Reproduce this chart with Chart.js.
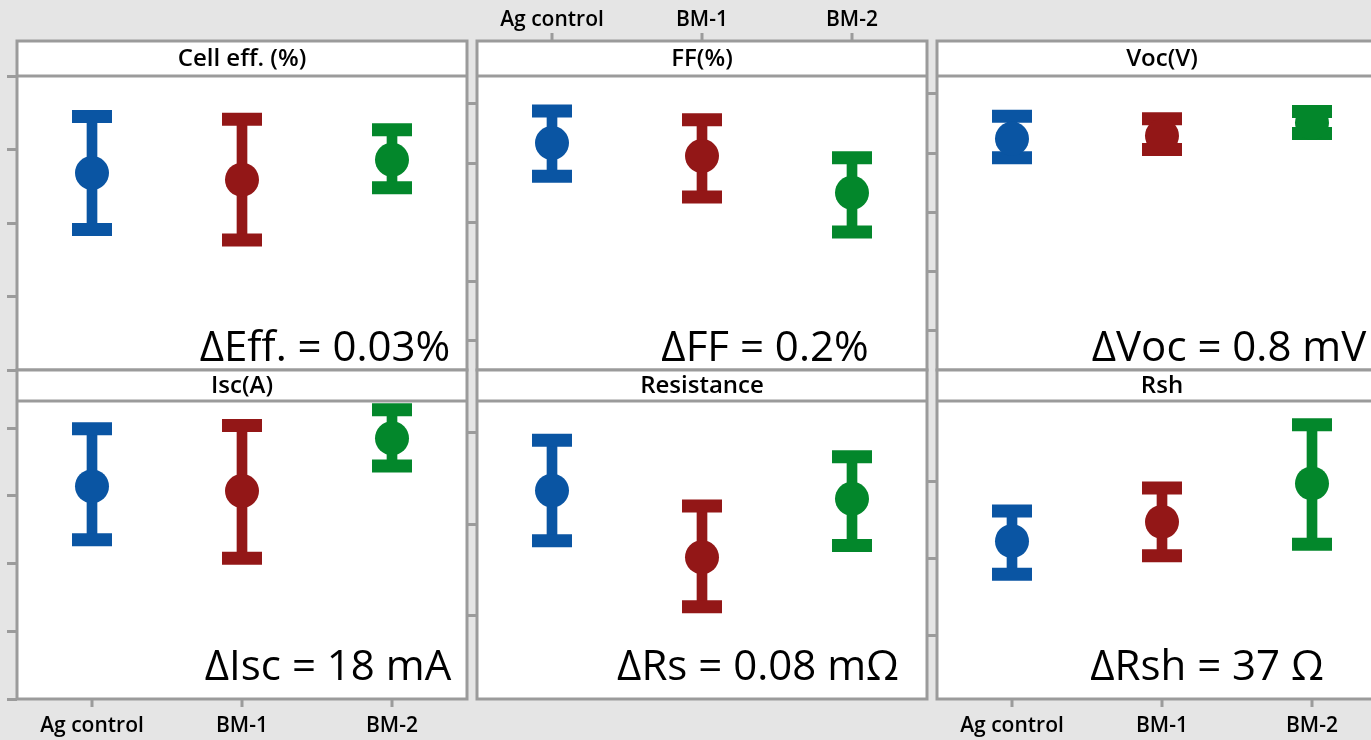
<!DOCTYPE html>
<html>
<head>
<meta charset="utf-8">
<script src="https://cdn.jsdelivr.net/npm/chart.js@4.4.0/dist/chart.umd.min.js"></script>
<style>
  html, body { margin: 0; padding: 0; background: #e5e5e5; overflow: hidden; }
  #wrap { position: relative; width: 1371px; height: 740px; overflow: hidden; }
  #wrap canvas { position: absolute; left: 0; top: 0; }
</style>
</head>
<body>
<div id="wrap"></div>
<script>
// groups on the x axis
const categories = ['Ag control', 'BM-1', 'BM-2'];
const groupColors = ['#0a55a3', '#931717', '#03872b'];

// y axes carry no labels, so values are in units of each panel's tick spacing
const effMean  = [2.68, 2.59, 2.86];
const effLower = [1.91, 1.77, 2.48];
const effUpper = [3.45, 3.41, 3.27];

const ffMean  = [3.34, 3.12, 2.50];
const ffLower = [2.78, 2.43, 1.84];
const ffUpper = [3.88, 3.73, 3.09];

const vocMean  = [3.24, 3.29, 3.51];
const vocLower = [2.92, 3.06, 3.33];
const vocUpper = [3.62, 3.58, 3.70];

const iscMean  = [3.14, 3.07, 3.85];
const iscLower = [2.35, 2.08, 3.44];
const iscUpper = [3.99, 4.04, 4.27];

const rsMean  = [1.37, 0.64, 1.28];
const rsLower = [0.82, 0.10, 0.77];
const rsUpper = [1.92, 1.20, 1.74];

const rshMean  = [1.22, 1.47, 1.97];
const rshLower = [0.79, 1.03, 1.18];
const rshUpper = [1.61, 1.91, 2.73];

const tickValues5 = [0, 1, 2, 3, 4];
const tickValues3 = [0, 1, 2];

const frameColor = '#9b9b9b';
const fontFamily = '"Open Sans", "Noto Sans", sans-serif';

const colLeft = [17, 477, 937];
const colWidth = 450;
const rows = [
    { top: 41, head: 76, bottom: 370, noteBase: 361 },
    { top: 370, head: 401, bottom: 699, noteBase: 680 }
];

const panels = [
    { title: 'Cell eff. (%)', note: '\u0394Eff. = 0.03%', mean: effMean, lower: effLower, upper: effUpper,
      ticks: tickValues5, min: 0, max: 4.0, col: 0, row: 0, noteX: 325, axis: null },
    { title: 'FF(%)', note: '\u0394FF = 0.2%', mean: ffMean, lower: ffLower, upper: ffUpper,
      ticks: tickValues5, min: -0.49, max: 4.47, col: 1, row: 0, noteX: 765, axis: 'top' },
    { title: 'Voc(V)', note: '\u0394Voc = 0.8 mV', mean: vocMean, lower: vocLower, upper: vocUpper,
      ticks: tickValues5, min: -0.66, max: 4.30, col: 2, row: 0, noteX: 1229, axis: null },
    { title: 'Isc(A)', note: '\u0394Isc = 18 mA', mean: iscMean, lower: iscLower, upper: iscUpper,
      ticks: tickValues5, min: 0, max: 4.40, col: 0, row: 1, noteX: 328, axis: 'bottom' },
    { title: 'Resistance', note: '\u0394Rs = 0.08 m\u03A9', mean: rsMean, lower: rsLower, upper: rsUpper,
      ticks: tickValues3, min: -0.91, max: 2.35, col: 1, row: 1, noteX: 758, axis: null },
    { title: 'Rsh', note: '\u0394Rsh = 37 \u03A9', mean: rshMean, lower: rshLower, upper: rshUpper,
      ticks: tickValues3, min: -0.83, max: 3.04, col: 2, row: 1, noteX: 1207, axis: 'bottom' }
];

// header strip, frame, notes and the category axis (which sits above the header in the top row)
const panelFrame = {
    id: 'panelFrame',
    beforeDraw(chart, args, opts) {
        const { ctx, chartArea: a } = chart;
        ctx.save();
        ctx.fillStyle = '#ffffff';
        ctx.fillRect(a.left, opts.top, a.right - a.left, a.bottom - opts.top);
        ctx.restore();
    },
    afterDraw(chart, args, opts) {
        const { ctx, chartArea: a } = chart;
        const xScale = chart.scales.x;
        ctx.save();
        ctx.strokeStyle = frameColor;
        ctx.lineWidth = 3;
        ctx.strokeRect(a.left, opts.top, a.right - a.left, a.bottom - opts.top);
        ctx.beginPath();
        ctx.moveTo(a.left, a.top);
        ctx.lineTo(a.right, a.top);
        ctx.stroke();

        ctx.fillStyle = '#000000';
        ctx.textAlign = 'center';
        ctx.textBaseline = 'middle';
        ctx.font = '600 24px ' + fontFamily;
        ctx.fillText(opts.title, (a.left + a.right) / 2, (opts.top + a.top) / 2 + 1);

        ctx.font = '42px ' + fontFamily;
        ctx.textBaseline = 'alphabetic';
        ctx.fillText(opts.note, opts.noteX, opts.noteBase);

        if (opts.axis) {
            const isTop = opts.axis === 'top';
            const y0 = isTop ? opts.top : a.bottom;
            ctx.font = '600 21px ' + fontFamily;
            categories.forEach((label, i) => {
                const px = xScale.getPixelForValue(i);
                ctx.beginPath();
                ctx.moveTo(px, y0);
                ctx.lineTo(px, isTop ? y0 - 8 : y0 + 8);
                ctx.stroke();
                ctx.textBaseline = 'middle';
                ctx.fillText(label, px, isTop ? y0 - 21 : y0 + 27);
            });
        }
        ctx.restore();
    }
};

function buildPanel(p) {
    const canvas = document.createElement('canvas');
    canvas.width = 1400;
    canvas.height = 740;
    document.getElementById('wrap').appendChild(canvas);

    const row = rows[p.row];
    const left = colLeft[p.col];
    const right = left + colWidth;

    return new Chart(canvas, {
        type: 'bar',
        data: {
            labels: categories,
            datasets: [
                {
                    type: 'line',
                    data: p.mean,
                    showLine: false,
                    pointStyle: 'circle',
                    pointRadius: 17,
                    pointBackgroundColor: groupColors,
                    pointBorderColor: groupColors,
                    pointBorderWidth: 0,
                    order: 0
                },
                {
                    type: 'line',
                    data: p.upper,
                    showLine: false,
                    pointStyle: 'line',
                    pointRadius: 20,
                    pointBorderColor: groupColors,
                    pointBorderWidth: 13,
                    order: 1
                },
                {
                    type: 'line',
                    data: p.lower,
                    showLine: false,
                    pointStyle: 'line',
                    pointRadius: 20,
                    pointBorderColor: groupColors,
                    pointBorderWidth: 13,
                    order: 1
                },
                {
                    type: 'bar',
                    data: p.lower.map((lo, i) => [lo, p.upper[i]]),
                    backgroundColor: groupColors,
                    borderWidth: 0,
                    barThickness: 10,
                    order: 2
                }
            ]
        },
        options: {
            responsive: false,
            animation: false,
            events: [],
            layout: {
                autoPadding: false,
                padding: { left: left - 10, top: row.head, right: 1400 - right, bottom: 740 - row.bottom }
            },
            plugins: {
                legend: { display: false },
                tooltip: { enabled: false },
                panelFrame: {
                    title: p.title,
                    note: p.note,
                    noteX: p.noteX,
                    noteBase: row.noteBase,
                    top: row.top,
                    axis: p.axis
                }
            },
            scales: {
                x: { display: false, offset: true },
                y: {
                    min: p.min,
                    max: p.max,
                    afterBuildTicks: s => { s.ticks = p.ticks.map(v => ({ value: v })); },
                    afterFit: s => { s.width = 10; },
                    ticks: { display: false },
                    grid: { drawOnChartArea: false, tickLength: 10, color: frameColor, lineWidth: 3 },
                    border: { display: false }
                }
            }
        },
        plugins: [panelFrame]
    });
}

panels.forEach(buildPanel);
</script>
</body>
</html>
